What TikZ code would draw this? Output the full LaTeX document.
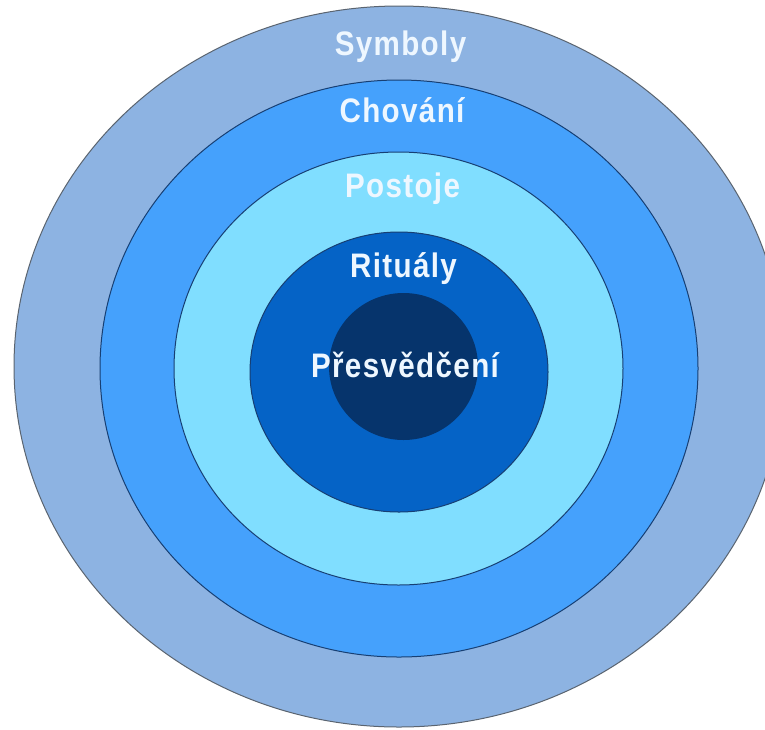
\documentclass[tikz,border=0pt]{standalone}
\usepackage{fontspec}
\setmainfont{Liberation Sans}
\newfontfamily\labelfont[FakeStretch=0.87, LetterSpace=4]{Liberation Sans Bold}
\definecolor{c1}{HTML}{8DB3E2}
\definecolor{c2}{HTML}{45A1FC}
\definecolor{c3}{HTML}{80DEFF}
\definecolor{c4}{HTML}{0563C6}
\definecolor{c5}{HTML}{06346C}
\definecolor{outerline}{HTML}{5A6470}
\definecolor{ringline}{HTML}{173F73}
\definecolor{labeltext}{HTML}{EEF7FF}
\begin{document}
\begin{tikzpicture}[x=1pt,y=-1pt,
  ring/.style={draw=ringline, line width=1pt},
  lbl/.style={font=\labelfont\fontsize{34}{38}\selectfont, text=labeltext, inner sep=0pt, anchor=base}]
\useasboundingbox (0,0) rectangle (765,729);
\clip (0,0) rectangle (765,729);
\fill[white] (0,0) rectangle (765,729);
\path[ring, fill=c1, draw=outerline] (399,366.5) ellipse [x radius=385, y radius=360.5];
\path[ring, fill=c2] (399,368.5) ellipse [x radius=299, y radius=288.5];
\path[ring, fill=c3] (398.5,368.5) ellipse [x radius=224.5, y radius=216.5];
\path[ring, fill=c4] (399,372) ellipse [x radius=149, y radius=140];
\path[fill=c5] (403.5,366.5) ellipse [x radius=74.5, y radius=73.5];
\node[lbl] (symboly) at (400.5,55) {Symboly};
\node[lbl] (chovani) at (402,122) {Chování};
\node[lbl] (postoje) at (402.5,197) {Postoje};
\node[lbl] (ritualy) at (403.5,277) {Rituály};
\node[lbl] (presvedceni) at (405,377) {Přesvědčení};
\end{tikzpicture}
\end{document}
